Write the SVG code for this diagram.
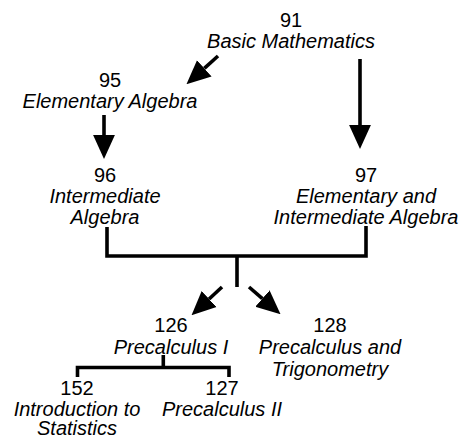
<svg xmlns="http://www.w3.org/2000/svg" width="464" height="438" viewBox="0 0 464 438">
<style>
text{font-family:"Liberation Sans",Arial,sans-serif;font-size:20px;fill:#000;text-anchor:middle}
.n{font-style:normal}
.t{font-style:italic}
.c line,.c polyline{stroke:#000;stroke-width:3.6;fill:none;stroke-linecap:butt}
</style>
<defs>
<marker id="ah" markerUnits="userSpaceOnUse" markerWidth="24" markerHeight="24" refX="0" refY="10" orient="auto" viewBox="0 0 22 20">
<path d="M0,0 L22,10 L0,20 z" fill="#000"/>
</marker>
</defs>
<g id="n91"><text class="n" x="291" y="27">91</text><text class="t" x="291" y="48">Basic Mathematics</text></g>
<g id="n95"><text class="n" x="110" y="87">95</text><text class="t" x="110" y="108">Elementary Algebra</text></g>
<g id="n96"><text class="n" x="105" y="182">96</text><text class="t" x="105" y="203">Intermediate</text><text class="t" x="105" y="224">Algebra</text></g>
<g id="n97"><text class="n" x="366" y="182">97</text><text class="t" x="366" y="203">Elementary and</text><text class="t" x="366" y="224">Intermediate Algebra</text></g>
<g id="n126"><text class="n" x="171" y="332">126</text><text class="t" x="171" y="354">Precalculus I</text></g>
<g id="n128"><text class="n" x="330" y="332">128</text><text class="t" x="330" y="354">Precalculus and</text><text class="t" x="330" y="376">Trigonometry</text></g>
<g id="n152"><text class="n" x="77" y="395">152</text><text class="t" x="77" y="416">Introduction to</text><text class="t" x="77" y="434.5">Statistics</text></g>
<g id="n127"><text class="n" x="222" y="395">127</text><text class="t" x="222" y="416">Precalculus II</text></g>
<g id="connectors" class="c">
<line x1="218" y1="56" x2="204.3" y2="68.3" marker-end="url(#ah)"/>
<line x1="360" y1="59" x2="360" y2="125" marker-end="url(#ah)"/>
<line x1="104" y1="115" x2="104" y2="135" marker-end="url(#ah)"/>
<polyline points="107,227 107,256 366,256 366,226"/>
<line x1="237" y1="256" x2="237" y2="287"/>
<line x1="222" y1="287" x2="209.1" y2="299" marker-end="url(#ah)"/>
<line x1="249" y1="287" x2="262.4" y2="298.6" marker-end="url(#ah)"/>
<line x1="163.3" y1="355" x2="163.3" y2="367.5"/>
<polyline points="77.5,377 77.5,367.5 229,367.5 229,377"/>
</g>
</svg>
